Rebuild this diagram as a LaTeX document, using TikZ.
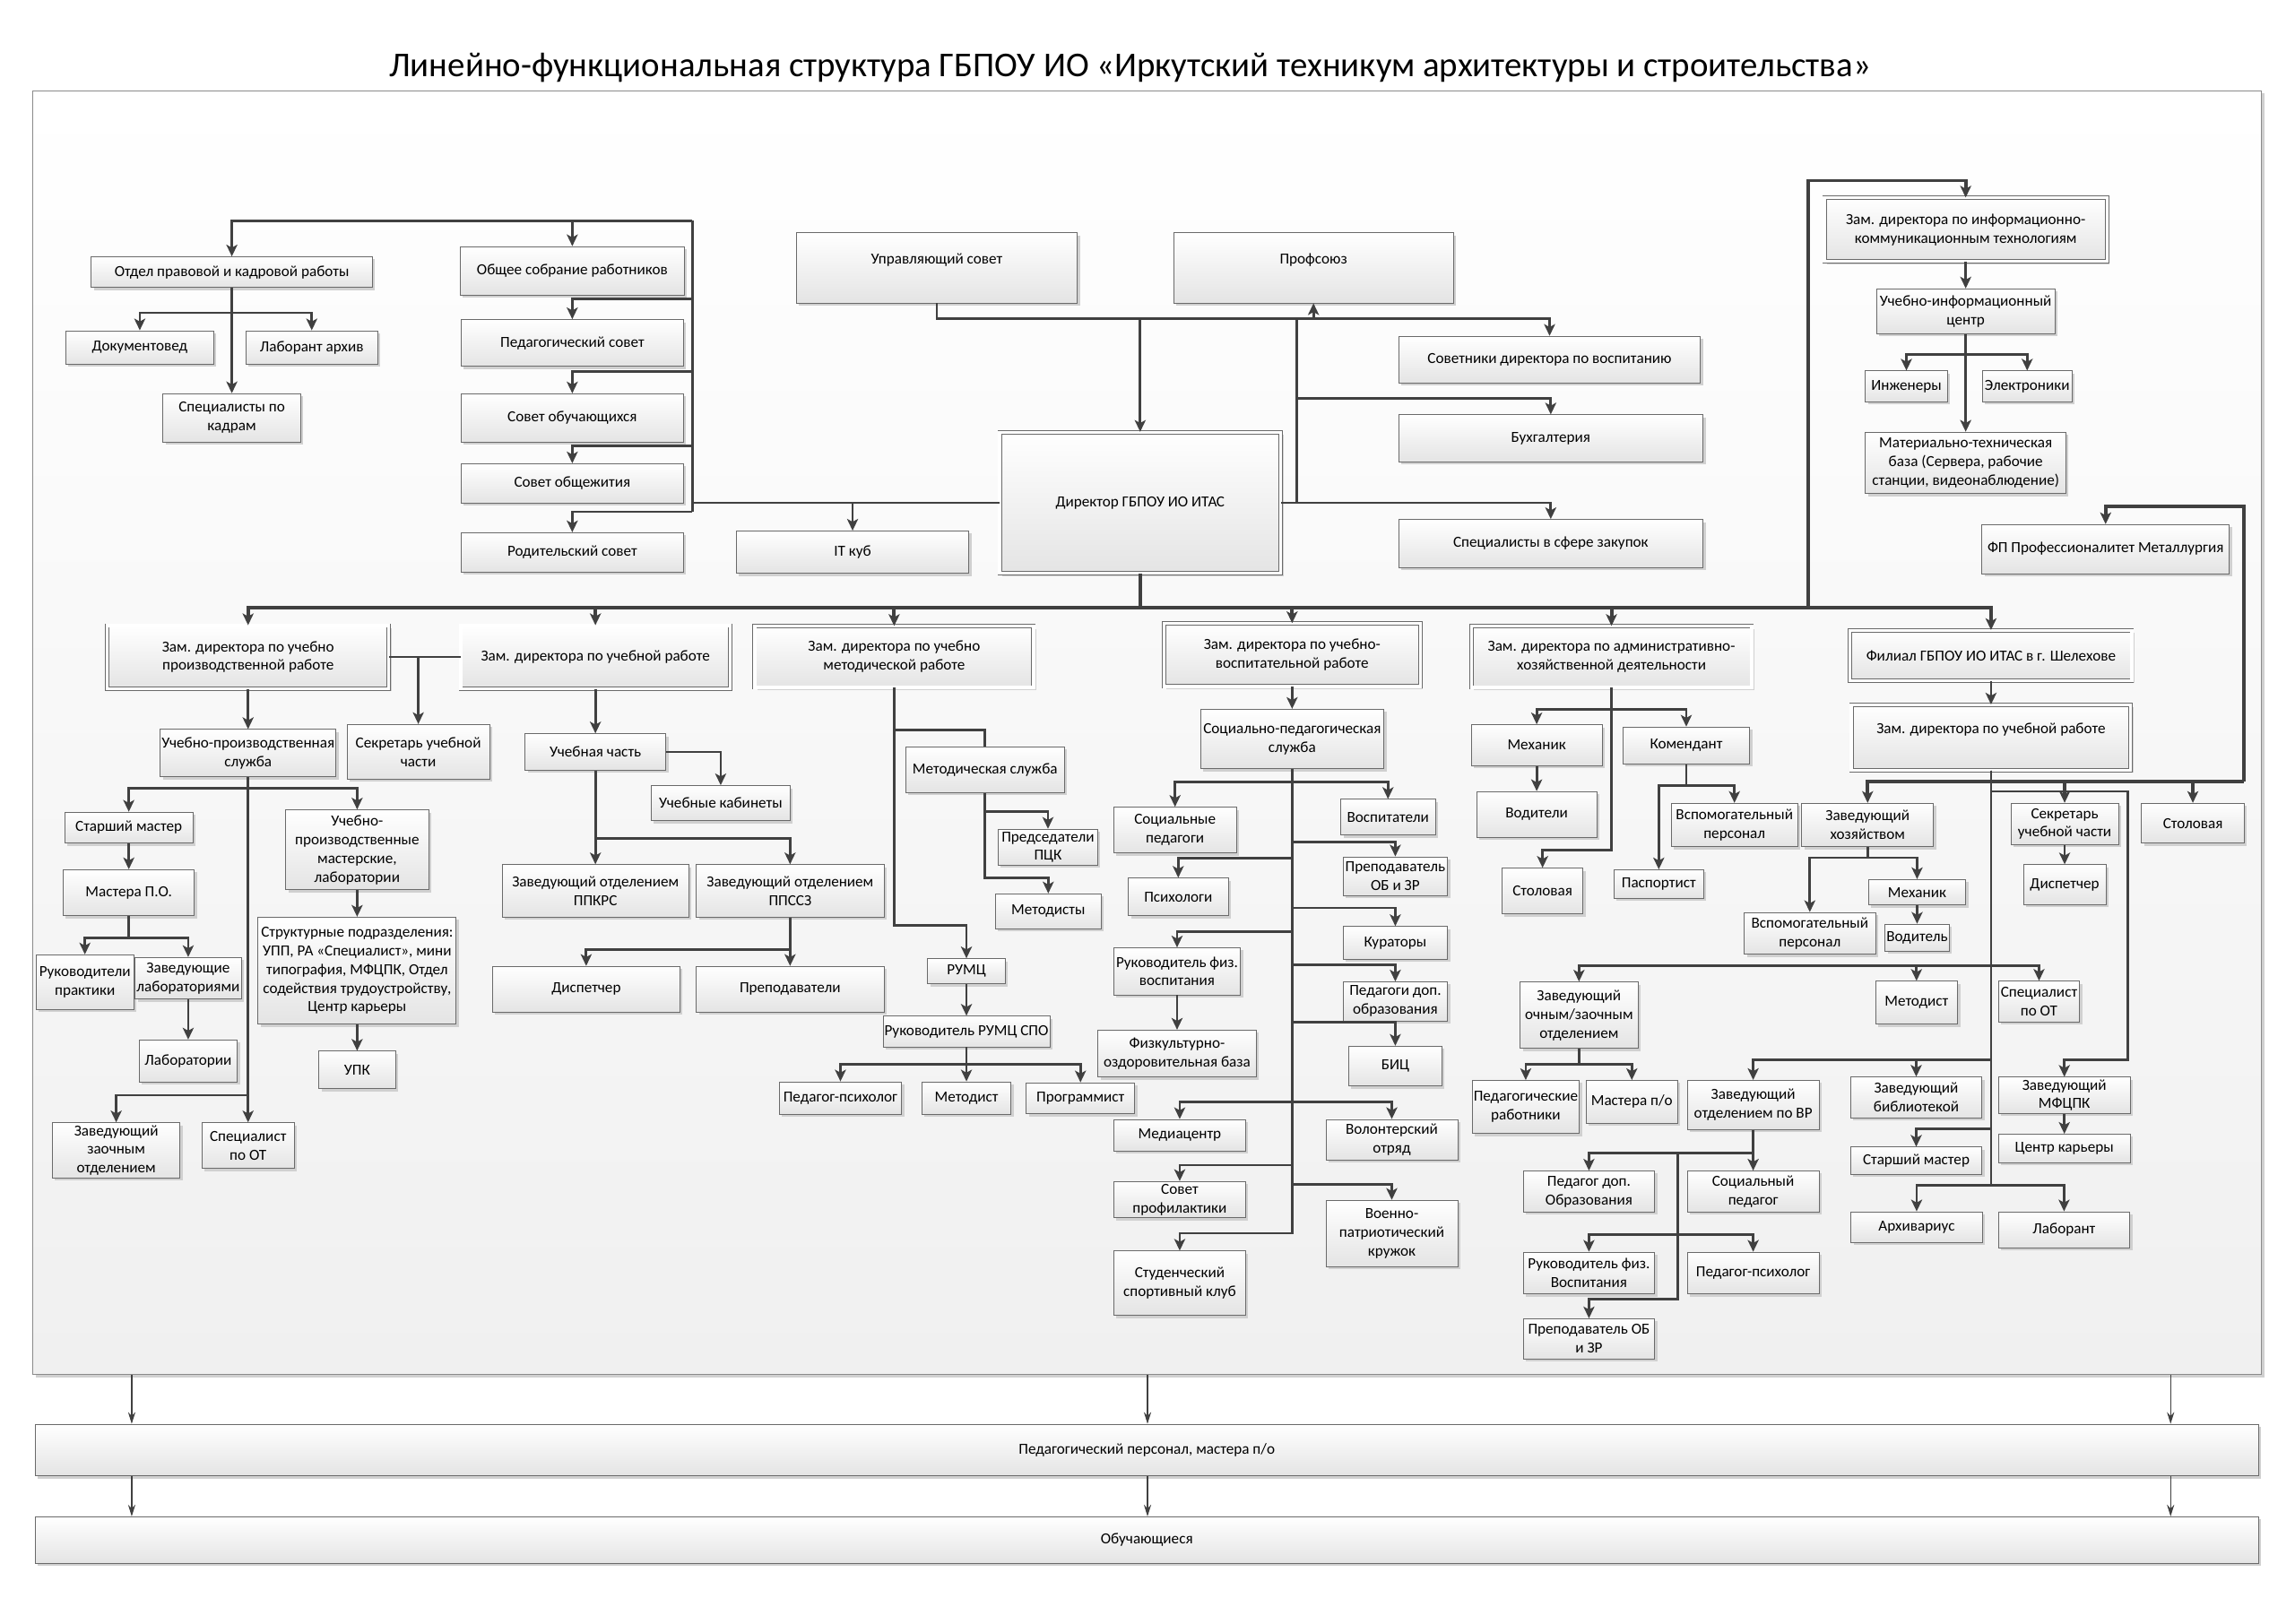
\documentclass[tikz,border=0pt]{standalone}
\usepackage{fontspec}
\setmainfont{Carlito}
\usetikzlibrary{arrows.meta,shadows}
\definecolor{linec}{HTML}{404040}
\definecolor{boxc}{HTML}{6A6A6A}
\definecolor{fillc}{HTML}{E4E4E4}
\definecolor{shadc}{HTML}{D0D0D0}
\definecolor{polec}{HTML}{F0F0F0}
\definecolor{framec}{HTML}{8A8A8A}
\newcommand{\boxfont}{\fontsize{10.5}{12.8}\selectfont}

\tikzset{
  box/.style 2 args={draw=boxc, line width=0.5pt, top color=white, bottom color=fillc,
    minimum width=#1pt, minimum height=#2pt, inner sep=1pt, align=center, font=\boxfont,
    drop shadow={shadow xshift=1.8pt, shadow yshift=-1.8pt, fill=shadc, opacity=1}},
  zam/.style={double=white, double distance=2pt},
  raised/.style={text depth=12pt},
  polebox/.style={draw=framec, line width=0.6pt, top color=white, bottom color=polec,
    drop shadow={shadow xshift=2pt, shadow yshift=-2pt, fill=shadc, opacity=1}},
  line/.style={draw=linec, line width=1.7pt},
  heavy/.style={draw=linec, line width=2.4pt},
  thinarr/.style={draw=linec, line width=0.7pt, -{Stealth[length=8pt,width=5pt]}}
}

\begin{document}
\begin{tikzpicture}[x=1pt,y=-1pt,>={Stealth[length=8pt,width=7.5pt,inset=2pt]}]
        \useasboundingbox (0,0) rectangle (1568,1109.85);

        % Title and frame
        \node[font=\fontsize{23.8}{28}\selectfont] (titel) at (772,46) {Линейно-функциональная структура ГБПОУ ИО «Иркутский техникум архитектуры и строительства»};
        \node[polebox, minimum width=1522.5pt, minimum height=877.5pt] (pole) at (783.75,500.75) {};

        % Councils and HR department
        \node[box={192}{21}] (opkr) at (158.4,186) {Отдел правовой и кадровой работы};
        \node[box={101}{23}] (doc) at (95.5,237.5) {Документовед};
        \node[box={90}{23}] (labarh) at (213,237.5) {Лаборант архив};
        \node[box={94}{33}] (spkadr) at (158.4,285.5) {Специалисты по\\кадрам};
        \node[box={153}{33}] (osr) at (391,185) {Общее собрание работников};
        \node[box={152}{32}] (pedsov) at (391,234.4) {Педагогический совет};
        \node[box={152}{33}] (sovob) at (391,285.6) {Совет обучающихся};
        \node[box={152}{27}] (sovobsh) at (391,330.4) {Совет общежития};
        \node[box={152}{27}] (rodsov) at (391,377.5) {Родительский совет};

        % Director and centre
        \node[box={192}{48},raised] (upsov) at (640,183) {Управляющий совет};
        \node[box={191}{48},raised] (prof) at (897.4,183) {Профсоюз};
        \node[box={206}{32}] (sovdir) at (1058.7,245.8) {Советники директора по воспитанию};
        \node[box={208}{32}] (buh) at (1059.5,299.5) {Бухгалтерия};
        \node[box={208}{33}] (zakup) at (1059.5,371.5) {Специалисты в сфере закупок};
        \node[box={192}{96.5},zam] (dir) at (779,343.6) {Директор ГБПОУ ИО ИТАС};
        \node[box={159}{29}] (itkub) at (582.5,377.4) {IT куб};

        % ICT
        \node[box={193}{43.5},zam] (zikt) at (1343,157) {Зам. директора по информационно-\\коммуникационным технологиям};
        \node[box={122}{30.6}] (uic) at (1343,212.7) {Учебно-информационный\\центр};
        \node[box={56}{21}] (ing) at (1302.5,264) {Инженеры};
        \node[box={61.4}{21}] (elek) at (1385,264) {Электроники};
        \node[box={137}{42}] (mtb) at (1343,316.3) {Материально-техническая\\база (Сервера, рабочие\\станции, видеонаблюдение)};
        \node[box={169}{33.5}] (fpm) at (1438.6,375.2) {ФП Профессионалитет Металлургия};

        % Deputies
        \node[box={192.4}{43},zam] (zupr) at (169.5,449) {Зам. директора по учебно\\производственной работе};
        \node[box={184}{43},zam] (zur) at (406.8,449) {Зам. директора по учебной работе};
        \node[box={190.5}{41.8},zam] (zumr) at (610.9,448.9) {Зам. директора по учебно\\методической работе};
        \node[box={175}{43},zam] (zuvr) at (882.8,447.6) {Зам. директора по учебно-\\воспитательной работе};
        \node[box={191.6}{41.8},zam] (zahd) at (1101,448.9) {Зам. директора по административно-\\хозяйственной деятельности};
        \node[box={192.4}{34.4},zam] (fil) at (1360.3,448) {Филиал ГБПОУ ИО ИТАС в г. Шелехове};

        % Production work
        \node[box={119.6}{32.4}] (ups) at (169.5,514.7) {Учебно-производственная\\служба};
        \node[box={97.3}{37.5}] (sekr1) at (285.8,513.8) {Секретарь учебной\\части};
        \node[box={87.3}{21.2}] (stm1) at (88,565.6) {Старший мастер};
        \node[box={89.7}{31.6}] (mpo) at (88,610.1) {Мастера П.О.};
        \node[box={66.7}{37.4}] (rukpr) at (58,671.2) {Руководители\\практики};
        \node[box={71.5}{28.4}] (zavlab) at (128.6,668.5) {Заведующие\\лабораториями};
        \node[box={67}{28.7}] (lab) at (128.6,725) {Лаборатории};
        \node[box={97.6}{54.7}] (upm) at (244,580.8) {Учебно-\\производственные\\мастерские,\\лаборатории};
        \node[box={135.4}{73.1}] (struk) at (244,663.3) {Структурные подразделения:\\УПП, РА «Специалист», мини\\типография, МФЦПК, Отдел\\содействия трудоустройству,\\Центр карьеры};
        \node[box={52.2}{25.7}] (upk) at (244,731.2) {УПК};
        \node[box={87.3}{37.9}] (zzo) at (79.4,786.2) {Заведующий\\заочным\\отделением};
        \node[box={63.3}{31.3}] (spot1) at (169.5,782.9) {Специалист\\по ОТ};

        % Teaching work
        \node[box={96.2}{24.9}] (uch) at (406.8,513.9) {Учебная часть};
        \node[box={94.8}{24}] (ukab) at (492.4,548.9) {Учебные кабинеты};
        \node[box={127.5}{35.8}] (ppkrs) at (406.8,608.8) {Заведующий отделением\\ППКРС};
        \node[box={128.3}{35.8}] (ppssz) at (539.8,608.8) {Заведующий отделением\\ППССЗ};
        \node[box={128.2}{31.3}] (disp1) at (400.5,676) {Диспетчер};
        \node[box={128.3}{31.3}] (prep) at (539.8,676) {Преподаватели};

        % Methodical work
        \node[box={108.5}{31.1}] (metsl) at (673,526) {Методическая служба};
        \node[box={68}{24.7}] (pck) at (716,579) {Председатели\\ПЦК};
        \node[box={72}{24}] (metod) at (716.2,622.8) {Методисты};
        \node[box={53}{17.3}] (rumc) at (660.3,663.8) {РУМЦ};
        \node[box={113.5}{21}] (rrumc) at (660.3,704.9) {Руководитель РУМЦ СПО};
        \node[box={83.6}{22}] (pp1) at (574.2,750.3) {Педагог-психолог};
        \node[box={61}{22}] (metodist1) at (660.3,750.3) {Методист};
        \node[box={74.3}{21.3}] (progr) at (738.2,750.6) {Программист};

        % Upbringing work
        \node[box={125.3}{40.6}] (sps) at (882.8,505) {Социально-педагогическая\\служба};
        \node[box={84}{31.3}] (socped) at (802.8,567.3) {Социальные\\педагоги};
        \node[box={64.5}{24.5}] (vosp) at (948.3,558.5) {Воспитатели};
        \node[box={68.2}{25.8}] (psih) at (805,613) {Психологи};
        \node[box={71.3}{26.3}] (obzr1) at (953.3,598.7) {Преподаватель\\ОБ и ЗР};
        \node[box={71.3}{22.3}] (kur) at (953.3,644.3) {Кураторы};
        \node[box={86.7}{32.1}] (rfv1) at (804.2,663.8) {Руководитель физ.\\воспитания};
        \node[box={71.3}{26.6}] (pdo1) at (953.3,684.3) {Педагоги доп.\\образования};
        \node[box={63.8}{27.3}] (bic) at (953.3,728.6) {БИЦ};
        \node[box={108.2}{32.1}] (fob) at (804.2,720) {Физкультурно-\\оздоровительная база};
        \node[box={90}{21.5}] (media) at (806,775.8) {Медиацентр};
        \node[box={90}{27.8}] (vol) at (950.9,778.9) {Волонтерский\\отряд};
        \node[box={90}{24.9}] (sprof) at (806,819.8) {Совет\\профилактики};
        \node[box={90}{45.3}] (vpk) at (950.9,842.9) {Военно-\\патриотический\\кружок};
        \node[box={90}{44.1}] (ssk) at (806,877) {Студенческий\\спортивный клуб};

        % Administration
        \node[box={89.2}{27.9}] (meh1) at (1049.9,509.2) {Механик};
        \node[box={81.8}{31.4}] (vod) at (1049.9,556.6) {Водители};
        \node[box={55.4}{31.2}] (stol1) at (1053.9,608.9) {Столовая};
        \node[box={86.6}{25.3}] (kom) at (1152.1,509.5) {Комендант};
        \node[box={86.3}{29.7}] (vsp1) at (1185,563.8) {Вспомогательный\\персонал};
        \node[box={61.3}{19.7}] (pasp) at (1133.3,604.2) {Паспортист};

        % Branch in Shelekhov
        \node[box={190.9}{44.6},zam,raised] (zurs) at (1360.3,504) {Зам. директора по учебной работе};
        \node[box={90}{29.7}] (zhoz) at (1276,563.8) {Заведующий\\хозяйством};
        \node[box={73.4}{28.4}] (sekr2) at (1410.6,563.1) {Секретарь\\учебной части};
        \node[box={70.1}{27.3}] (stol2) at (1498.2,562.6) {Столовая};
        \node[box={56.5}{27.1}] (disp2) at (1410.6,604.5) {Диспетчер};
        \node[box={66.5}{17.5}] (meh2) at (1309.8,609.8) {Механик};
        \node[box={43.7}{18.3}] (vodit) at (1309.8,640.7) {Водитель};
        \node[box={89.6}{28.7}] (vsp2) at (1236.5,637.9) {Вспомогательный\\персонал};
        \node[box={80.4}{45.5}] (zoz) at (1078.8,693.8) {Заведующий\\очным/заочным\\отделением};
        \node[box={56.2}{29.3}] (metodist2) at (1309.4,685.2) {Методист};
        \node[box={55.4}{28}] (spot2) at (1393.1,684.5) {Специалист\\по ОТ};
        \node[box={72.7}{36.3}] (pedrab) at (1042.4,756.5) {Педагогические\\работники};
        \node[box={62.7}{29.1}] (mpo2) at (1114.9,752.9) {Мастера п/о};
        \node[box={90}{33.6}] (zovr) at (1197.8,755.1) {Заведующий\\отделением по ВР};
        \node[box={89.6}{27.9}] (zbib) at (1309.2,750) {Заведующий\\библиотекой};
        \node[box={90}{24.7}] (zmfc) at (1410.4,748.5) {Заведующий\\МФЦПК};
        \node[box={90}{19.4}] (ck) at (1410.4,784.8) {Центр карьеры};
        \node[box={89.6}{18.6}] (stm2) at (1309.2,793.2) {Старший мастер};
        \node[box={89.7}{28.1}] (pdo2) at (1085.6,814.3) {Педагог доп.\\Образования};
        \node[box={90}{28.1}] (socped2) at (1197.8,814.3) {Социальный\\педагог};
        \node[box={89.7}{28.6}] (rfv2) at (1085.6,870) {Руководитель физ.\\Воспитания};
        \node[box={90}{28.6}] (pp2) at (1197.8,870) {Педагог-психолог};
        \node[box={89.7}{27.6}] (obzr2) at (1085.6,915) {Преподаватель ОБ\\и ЗР};
        \node[box={89.7}{20.8}] (arh) at (1309.5,838.5) {Архивариус};
        \node[box={90}{24.6}] (labor) at (1410.2,840.4) {Лаборант};

        % Staff and students
        \node[box={1519}{35.4}] (pedpers) at (783.5,991) {Педагогический персонал, мастера п/о};
        \node[box={1519}{31.9}] (obuch) at (783.5,1052.5) {Обучающиеся};

        % Lines to the councils
        \coordinate (busL) at (473,150.8);
        \coordinate (busLb) at (473,349.7);
        \draw[line] (dir.west) -| (busLb) -- (busL);
        \draw[line,->] (busL) -| (opkr.north);
        \draw[line,->] (busL -| osr.north) -- (osr.north);
        \draw[line,->] (busL) |- ([yshift=14pt]pedsov.north) -- (pedsov.north);
        \draw[line,->] (busL) |- ([yshift=15pt]sovob.north) -- (sovob.north);
        \draw[line,->] (busL) |- ([yshift=12pt]sovobsh.north) -- (sovobsh.north);
        \draw[line,->] (busLb) -| (rodsov.north);
        \draw[line,->] (dir.west -| itkub.north) -- (itkub.north);
        \draw[line,->] (opkr.south) -- (spkadr.north);
        \draw[line,->] (opkr.south) |- ([yshift=12pt]doc.north) -- (doc.north);
        \draw[line,->] (opkr.south) |- ([yshift=12pt]labarh.north) -- (labarh.north);

        % Lines round the director
        \draw[line,->] (upsov.south) |- ([yshift=12pt]sovdir.north) -- (sovdir.north);
        \draw[line,->] ([yshift=77.6pt]dir.north) -- (dir.north);
        \draw[line,->] ([yshift=-10.6pt]prof.south) -- (prof.south);
        \coordinate (jR) at (886,217.8);
        \draw[line] (jR) -- (jR |- dir.east);
        \draw[line,->] (jR) |- ([yshift=11pt]buh.north) -- (buh.north);
        \draw[line,->] (dir.east) -| (zakup.north);

        % Main bus to the deputies
        \coordinate (busM) at (779,415.5);
        \draw[heavy] (dir.south) -- (busM);
        \draw[heavy,->] (busM) -| (zupr.north);
        \draw[heavy,->] (busM) -| (fil.north);
        \draw[heavy,->] (busM -| zur.north) -- (zur.north);
        \draw[heavy,->] (busM -| zumr.north) -- (zumr.north);
        \draw[heavy,->] (busM -| zuvr.north) -- (zuvr.north);
        \draw[heavy,->] (busM -| zahd.north) -- (zahd.north);
        \coordinate (jI) at (1235.5,415.5);
        \draw[heavy,->] (jI) |- ([yshift=11.6pt]zikt.north) -- (zikt.north);

        % ICT
        \draw[line,->] (zikt.south) -- (uic.north);
        \draw[line,->] (uic.south) -- (mtb.north);
        \draw[line,->] (uic.south) |- ([yshift=10.8pt]ing.north) coordinate (jE) -- (ing.north);
        \draw[line,->] (jE) -| (elek.north);

        % Shelekhov
        \draw[line,->] (fil.south) -- (zurs.north);
        \coordinate (jS) at (1532.8,534.3);
        \draw[heavy,->] (jS) |- ([yshift=12.2pt]fpm.north) -- (fpm.north);
        \draw[heavy,->] (jS) -| (zhoz.north);
        \draw[heavy,->] (jS -| sekr2.north) -- (sekr2.north);
        \draw[heavy,->] (jS -| stol2.north) -- (stol2.north);
        \coordinate (jM) at (1453.9,540.9);
        \draw[line,->] (zurs.south |- jM) -- (jM) |- ([yshift=11.4pt]zmfc.north) -- (zmfc.north);
        \draw[line,->] (zurs.south) |- ([yshift=11pt]zoz.north) coordinate (jZ) -- (zoz.north);
        \draw[line,->] (zurs.south |- jZ) -| (spot2.north);
        \draw[line,->] (jZ -| metodist2.north) -- (metodist2.north);
        \draw[line,->] (zurs.south) |- ([yshift=14pt]zovr.north) coordinate (jB) -- (zovr.north);
        \draw[line,->] (jB -| zbib.north) -- (zbib.north);
        \draw[line,->] (zurs.south) |- ([yshift=12pt]stm2.north) -- (stm2.north);
        \draw[line,->] (zurs.south) |- ([yshift=17.6pt]arh.north) coordinate (jA) -- (arh.north);
        \draw[line,->] (zurs.south |- jA) -| (labor.north);
        \draw[line,->] (zhoz.south) |- ([yshift=14.7pt]meh2.north) coordinate (jH) -- (meh2.north);
        \draw[line,->] (jH) -| (vsp2.north);
        \draw[line,->] (meh2.south) -- (vodit.north);
        \draw[line,->] (sekr2.south) -- (disp2.north);
        \draw[line,->] (zmfc.south) -- (ck.north);
        \draw[line,->] (zoz.south) |- ([yshift=11pt]pedrab.north) coordinate (jO) -- (pedrab.north);
        \draw[line,->] (jO) -| (mpo2.north);
        \draw[line,->] (zovr.south) -- (socped2.north);
        \draw[line,->] (zovr.south) |- ([yshift=11.8pt]pdo2.north) -- (pdo2.north);
        \coordinate (jW) at (1146.5,788.4);
        \draw[line,->] (jW) |- ([yshift=13.3pt]obzr2.north) -- (obzr2.north);
        \draw[line,->] (jW) |- ([yshift=11.7pt]rfv2.north) coordinate (jP) -- (rfv2.north);
        \draw[line,->] (jP) -| (pp2.north);

        % Administration lines
        \draw[line,->] (zahd.south) |- ([yshift=10pt]meh1.north) coordinate (jX) -- (meh1.north);
        \draw[line,->] (jX) -| (kom.north);
        \draw[line,->] (zahd.south) |- ([yshift=12pt]stol1.north) -- (stol1.north);
        \draw[line,->] (meh1.south) -- (vod.north);
        \draw[line,->] (kom.south) |- ([yshift=12pt]vsp1.north) coordinate (jK) -- (vsp1.north);
        \draw[line,->] (jK) -| (pasp.north);

        % Upbringing lines
        \draw[line,->] (zuvr.south) -- (sps.north);
        \draw[line,->] (sps.south) |- ([yshift=16.8pt]socped.north) coordinate (jU) -- (socped.north);
        \draw[line,->] (jU) -| (vosp.north);
        \draw[line,->] (sps.south) |- ([yshift=9.8pt]obzr1.north) -- (obzr1.north);
        \draw[line,->] (sps.south) |- ([yshift=13.5pt]psih.north) -- (psih.north);
        \draw[line,->] (sps.south) |- ([yshift=12.5pt]kur.north) -- (kur.north);
        \draw[line,->] (sps.south) |- ([yshift=10.7pt]rfv1.north) -- (rfv1.north);
        \draw[line,->] (sps.south) |- ([yshift=11.4pt]pdo1.north) -- (pdo1.north);
        \draw[line,->] (sps.south) |- ([yshift=16pt]bic.north) -- (bic.north);
        \draw[line,->] (sps.south) |- ([yshift=11.6pt]media.north) coordinate (jD) -- (media.north);
        \draw[line,->] (jD) -| (vol.north);
        \draw[line,->] (sps.south) |- ([yshift=10.8pt]sprof.north) -- (sprof.north);
        \draw[line,->] (sps.south) |- ([yshift=10.6pt]vpk.north) -- (vpk.north);
        \draw[line,->] (sps.south) |- ([yshift=11.9pt]ssk.north) -- (ssk.north);
        \draw[line,->] (rfv1.south) -- (fob.north);

        % Methodical lines
        \draw[line,->] (zumr.south) |- ([yshift=22.5pt]rumc.north) -- (rumc.north);
        \draw[line] (zumr.south) |- ([yshift=11.4pt]metsl.north) -- (metsl.north);
        \draw[line,->] (metsl.south) |- ([yshift=11.7pt]pck.north) -- (pck.north);
        \draw[line,->] (metsl.south) |- ([yshift=10.7pt]metod.north) -- (metod.north);
        \draw[line,->] (rumc.south) -- (rrumc.north);
        \draw[line,->] (rrumc.south) -- (metodist1.north);
        \draw[line,->] (rrumc.south) |- ([yshift=11.7pt]pp1.north) coordinate (jQ) -- (pp1.north);
        \draw[line,->] (jQ) -| (progr.north);

        % Teaching lines
        \draw[line] (zupr.east) -- (zur.west);
        \draw[line,->] (zupr.east -| sekr1.north) -- (sekr1.north);
        \draw[line,->] (zur.south) -- (uch.north);
        \draw[line,->] (uch.east) -| (ukab.north);
        \draw[line,->] (uch.south) -- (ppkrs.north);
        \draw[line,->] (uch.south) |- ([yshift=17.6pt]ppssz.north) -- (ppssz.north);
        \draw[line,->] (ppssz.south) -- (prep.north);
        \draw[line,->] (ppssz.south) |- ([yshift=11pt]disp1.north) -- (disp1.north);

        % Production lines
        \draw[line,->] (zupr.south) -- (ups.north);
        \draw[line,->] (ups.south) -- (spot1.north);
        \draw[line,->] (ups.south) |- ([yshift=15.9pt]stm1.north) -- (stm1.north);
        \draw[line,->] (ups.south) |- ([yshift=14.3pt]upm.north) -- (upm.north);
        \draw[line,->] (ups.south) |- ([yshift=18.6pt]zzo.north) -- (zzo.north);
        \draw[line,->] (stm1.south) -- (mpo.north);
        \draw[line,->] (mpo.south) |- ([yshift=11.2pt]rukpr.north) coordinate (jT) -- (rukpr.north);
        \draw[line,->] (jT) -| (zavlab.north);
        \draw[line,->] (zavlab.south) -- (lab.north);
        \draw[line,->] (upm.south) -- (struk.north);
        \draw[line,->] (struk.south) -- (upk.north);

        % Down to staff and students
        \coordinate (c1) at (90,0);
        \coordinate (c2) at (784,0);
        \coordinate (c3) at (1483,0);
        \draw[thinarr] (pole.south -| c1) -- (pedpers.north -| c1);
        \draw[thinarr] (pole.south -| c2) -- (pedpers.north -| c2);
        \draw[thinarr] (pole.south -| c3) -- (pedpers.north -| c3);
        \draw[thinarr] (pedpers.south -| c1) -- (obuch.north -| c1);
        \draw[thinarr] (pedpers.south -| c2) -- (obuch.north -| c2);
        \draw[thinarr] (pedpers.south -| c3) -- (obuch.north -| c3);
    \end{tikzpicture}
\end{document}
